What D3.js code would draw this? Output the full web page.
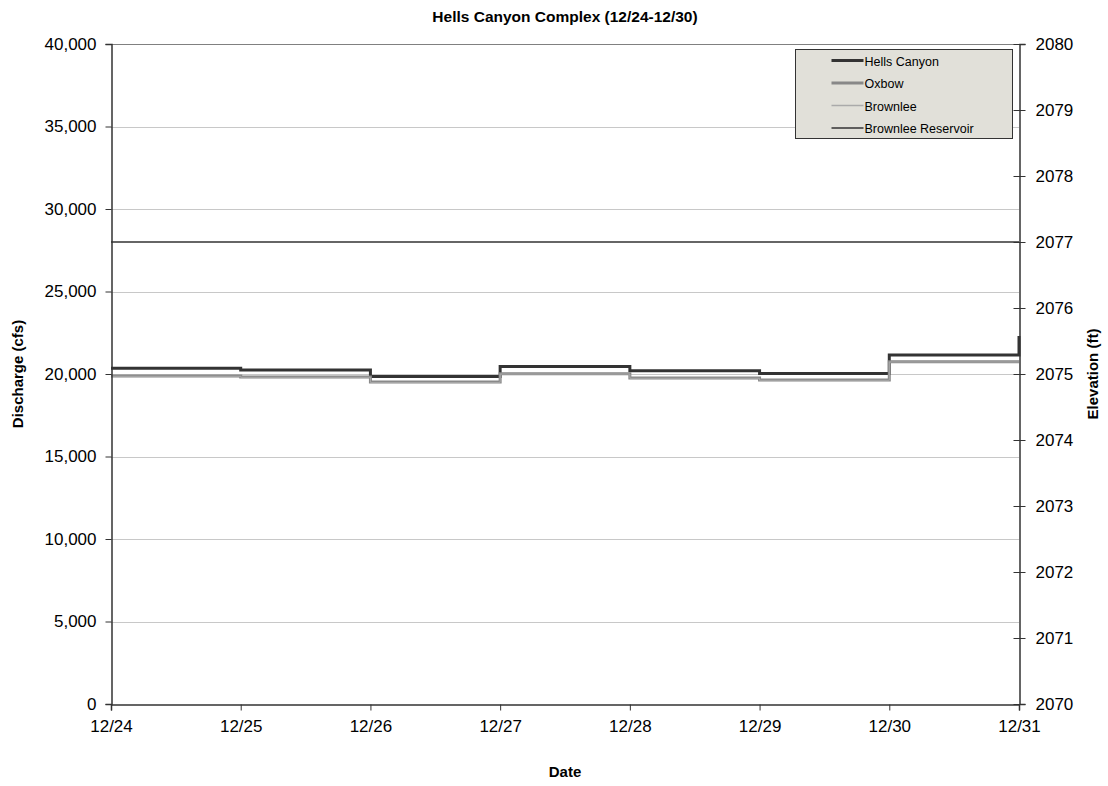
<!DOCTYPE html>
<html>
<head>
<meta charset="utf-8">
<script src="https://cdn.jsdelivr.net/npm/d3@7"></script>
<style>
body { margin: 0; background: #fff; }
text { font-family: "Liberation Sans", Arial, sans-serif; }
</style>
</head>
<body>
<div id="canvas"></div>
<script>
// ----------------------------------------------------------
// DATA -----------------------------------------------------
// ----------------------------------------------------------
var dates = ["12/24", "12/25", "12/26", "12/27", "12/28", "12/29", "12/30", "12/31"];
var hells_canyon = [20350, 20250, 19850, 20450, 20200, 20030, 21150, 22300];
var oxbow = [19880, 19820, 19510, 20020, 19760, 19640, 20750, 20750];
var brownlee = [19860, 19800, 19490, 20000, 19740, 19620, 20730, 20730];
var reservoir = [2077, 2077, 2077, 2077, 2077, 2077, 2077, 2077];
var left_ticks = [0, 5000, 10000, 15000, 20000, 25000, 30000, 35000, 40000];
var right_ticks = [2070, 2071, 2072, 2073, 2074, 2075, 2076, 2077, 2078, 2079, 2080];

// ----------------------------------------------------------
// STRUCTURE ------------------------------------------------
// ----------------------------------------------------------
var W = 1108, H = 786;
var plot = { left: 111, right: 1019, top: 44, bottom: 704 };

var svg = d3.select("#canvas").append("svg")
.attr("width", W)
.attr("height", H);

var parse = d3.timeParse("%m/%d/%Y");
var days = dates.map((d) => parse(d + "/2008"));

var x = d3.scaleTime()
.domain([days[0], days[days.length - 1]])
.range([plot.left, plot.right]);

var yL = d3.scaleLinear()
.domain([0, 40000])
.range([plot.bottom, plot.top]);

var yR = d3.scaleLinear()
.domain([2070, 2080])
.range([plot.bottom, plot.top]);

// gridlines
svg.append("g")
.selectAll("line")
.data(left_ticks.slice(1))
.enter()
.append("line")
.attr("x1", plot.left)
.attr("x2", plot.right)
.attr("y1", (d) => Math.round(yL(d)) + 0.5)
.attr("y2", (d) => Math.round(yL(d)) + 0.5)
.style("stroke", (d) => d == 40000 ? "#808080" : "#c8c8c8")
.style("stroke-width", 1);

// ----------------------------------------------------------
// LINES ----------------------------------------------------
// ----------------------------------------------------------
function series(vals) {
  return vals.map((v, i) => ({ date: days[i], value: v }));
}

var lineL = d3.line()
.x((d) => x(d.date))
.y((d) => yL(d.value))
.curve(d3.curveStepAfter);

var lineR = d3.line()
.x((d) => x(d.date))
.y((d) => yR(d.value));

var lines_group = svg.append("g").attr("class", "lines_group");

lines_group.append("path")
.datum(series(reservoir))
.attr("d", lineR)
.style("fill", "none")
.style("stroke", "#333")
.style("stroke-width", 1.5);

lines_group.append("path")
.datum(series(hells_canyon))
.attr("d", lineL)
.style("fill", "none")
.style("stroke", "#333")
.style("stroke-width", 3);

lines_group.append("path")
.datum(series(oxbow))
.attr("d", lineL)
.style("fill", "none")
.style("stroke", "#888")
.style("stroke-width", 3);

lines_group.append("path")
.datum(series(brownlee))
.attr("d", lineL)
.style("fill", "none")
.style("stroke", "#aaa")
.style("stroke-width", 1);

// ----------------------------------------------------------
// AXES -----------------------------------------------------
// ----------------------------------------------------------
var fmt = d3.format(",");

var axisL = svg.append("g")
.attr("transform", `translate(${plot.left + 0.5},0)`)
.call(d3.axisLeft(yL).tickValues(left_ticks).tickFormat(fmt).tickSize(6).tickPadding(9));

var axisR = svg.append("g")
.attr("transform", `translate(${plot.right + 0.5},0)`)
.call(d3.axisRight(yR).tickValues(right_ticks).tickFormat(d3.format("d")).tickSize(6).tickPadding(10));
axisR.selectAll(".tick line").attr("x1", -6);

var axisB = svg.append("g")
.attr("transform", `translate(0,${plot.bottom + 0.5})`)
.call(d3.axisBottom(x).tickValues(days).tickFormat((d, i) => dates[i]).tickSize(6).tickPadding(9));

[axisL, axisR, axisB].forEach(function (a) {
  a.select(".domain").style("stroke", "#333").style("stroke-width", 1.5);
  a.selectAll(".tick line").style("stroke", "#333");
  a.selectAll(".tick text")
  .style("font-family", "Liberation Sans, Arial, sans-serif")
  .style("font-size", "17px")
  .style("fill", "#000");
});

// ----------------------------------------------------------
// TEXT -----------------------------------------------------
// ----------------------------------------------------------
svg.append("text")
.attr("x", (plot.left + plot.right) / 2)
.attr("y", 22)
.attr("text-anchor", "middle")
.style("font-size", "15.5px")
.style("font-weight", "bold")
.text("Hells Canyon Complex (12/24-12/30)");

svg.append("text")
.attr("x", (plot.left + plot.right) / 2)
.attr("y", 777)
.attr("text-anchor", "middle")
.style("font-size", "15px")
.style("font-weight", "bold")
.text("Date");

svg.append("text")
.attr("transform", `translate(23,${(plot.top + plot.bottom) / 2}) rotate(-90)`)
.attr("text-anchor", "middle")
.style("font-size", "15px")
.style("font-weight", "bold")
.text("Discharge (cfs)");

svg.append("text")
.attr("transform", `translate(1098,${(plot.top + plot.bottom) / 2}) rotate(-90)`)
.attr("text-anchor", "middle")
.style("font-size", "15px")
.style("font-weight", "bold")
.text("Elevation (ft)");

// ----------------------------------------------------------
// LEGEND ---------------------------------------------------
// ----------------------------------------------------------
var legend_items = [
{ name: "Hells Canyon", color: "#333", width: 3 },
{ name: "Oxbow", color: "#888", width: 3 },
{ name: "Brownlee", color: "#aaa", width: 1.5 },
{ name: "Brownlee Reservoir", color: "#333", width: 1.5 }
];

var legend = svg.append("g").attr("transform", "translate(795.5,49.5)");
legend.append("rect")
.attr("width", 217)
.attr("height", 89)
.style("fill", "#e1e0d9")
.style("stroke", "#333")
.style("stroke-width", 1);

var li = legend.selectAll(".li")
.data(legend_items)
.enter()
.append("g")
.attr("transform", (d, i) => `translate(0,${11 + i * 22.5})`);

li.append("line")
.attr("x1", 36)
.attr("x2", 68)
.attr("y1", 0)
.attr("y2", 0)
.style("stroke", (d) => d.color)
.style("stroke-width", (d) => d.width);

li.append("text")
.attr("x", 69)
.attr("y", 5)
.style("font-size", "12.5px")
.text((d) => d.name);
</script>
</body>
</html>
